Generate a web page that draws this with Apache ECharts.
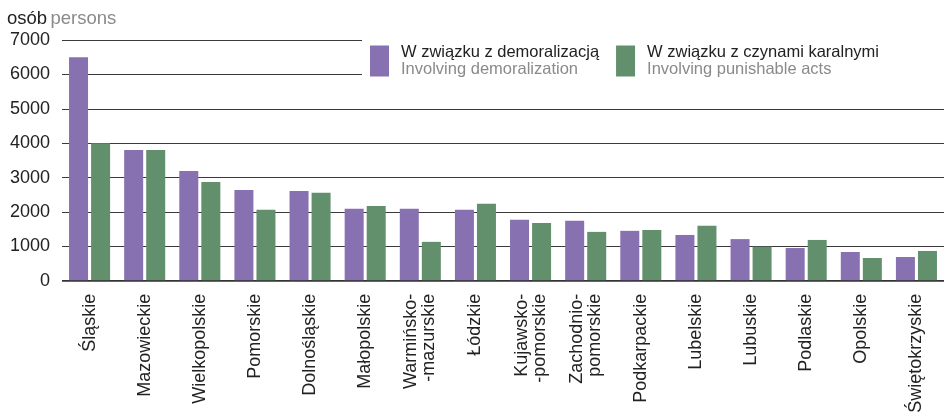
<!DOCTYPE html>
<html>
<head>
<meta charset="utf-8">
<script src="https://cdn.jsdelivr.net/npm/echarts@6/dist/echarts.min.js"></script>
<style>html,body{margin:0;padding:0;background:#fff}#c{width:949px;height:416px}</style>
</head>
<body>
<div id="c"></div>
<script>
const categories = ['Śląskie','Mazowieckie','Wielkopolskie','Pomorskie','Dolnośląskie','Małopolskie','Warmińsko-\n-mazurskie','Łódzkie','Kujawsko-\n-pomorskie','Zachodnio-\npomorskie','Podkarpackie','Lubelskie','Lubuskie','Podlaskie','Opolskie','Świętokrzyskie'];
const demoralization = [6500,3800,3190,2640,2610,2090,2090,2060,1770,1740,1450,1330,1210,950,835,690];
const punishable = [4000,3800,2870,2060,2555,2175,1130,2235,1680,1420,1475,1595,990,1185,660,865];
const yTicks = [0,1000,2000,3000,4000,5000,6000,7000];
const seriesNames = ['W związku z demoralizacją','W związku z czynami karalnymi'];
const seriesNamesEn = {'W związku z demoralizacją':'Involving demoralization','W związku z czynami karalnymi':'Involving punishable acts'};

const FONT = '"Liberation Sans", Arial, sans-serif';
const chart = echarts.init(document.getElementById('c'));
chart.setOption({
  animation: false,
  textStyle: {fontFamily: FONT},
  grid: {left: 62, right: 5, top: 40, bottom: 135.3},
  graphic: [{
    type: 'text', left: 7, top: 9,
    style: {
      text: '{a|osób} {b|persons}',
      rich: {
        a: {fontSize: 18.5, fill: '#222', fontFamily: FONT},
        b: {fontSize: 18.5, fill: '#8a8a8a', fontFamily: FONT}
      }
    }
  }, {
    type: 'rect', left: 362, top: 34, z: 5, silent: true,
    shape: {width: 600, height: 54},
    style: {fill: '#fff'}
  }],
  legend: {
    data: seriesNames,
    orient: 'horizontal',
    left: 362, top: 34, right: 0,
    padding: [10, 2, 6, 8],
    itemWidth: 19, itemHeight: 31,
    itemGap: 17,
    icon: 'rect',
    z: 10,
    formatter: function (name) { return '{a|' + name + '}\n{b|' + seriesNamesEn[name] + '}'; },
    textStyle: {
      rich: {
        a: {fontSize: 16.5, color: '#222', lineHeight: 17, padding: [0,0,0,7], fontFamily: FONT},
        b: {fontSize: 16.5, color: '#8a8a8a', lineHeight: 17, padding: [0,0,0,7], fontFamily: FONT}
      }
    }
  },
  xAxis: {
    type: 'category',
    data: categories,
    axisLine: {show: false},
    axisTick: {show: false},
    axisLabel: {
      rotate: 90, interval: 0, margin: 13,
      fontSize: 18, lineHeight: 18, color: '#222', fontFamily: FONT
    }
  },
  yAxis: {
    type: 'value', min: 0, max: 7000, interval: 1000,
    axisLine: {show: false},
    axisTick: {show: false},
    axisLabel: {
      margin: 12, fontSize: 18, color: '#222', fontFamily: FONT,
      formatter: function (v) { return yTicks.indexOf(v) >= 0 ? String(v) : ''; }
    },
    splitLine: {lineStyle: {color: '#3a3a3a', width: 1}}
  },
  series: [
    {
      name: seriesNames[0], type: 'bar', data: demoralization,
      barWidth: 19, barGap: '16%',
      itemStyle: {color: '#8771b1'}
    },
    {
      name: seriesNames[1], type: 'bar', data: punishable,
      barWidth: 19,
      itemStyle: {color: '#62906d'},
      markLine: {
        silent: true, symbol: 'none', label: {show: false},
        lineStyle: {color: '#333', width: 1.6, type: 'solid'},
        data: [{yAxis: 0}]
      }
    }
  ]
});
</script>
</body>
</html>
